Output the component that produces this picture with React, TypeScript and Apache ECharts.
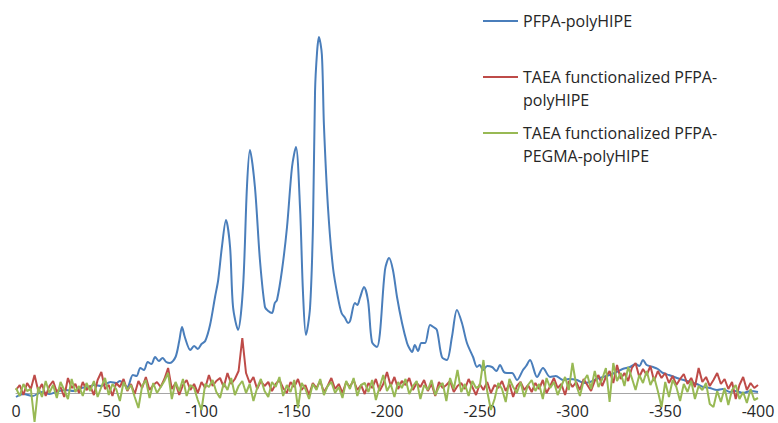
import React, { useEffect, useRef } from "react";
import * as echarts from "echarts";

// Chemical shift (ppm) – x axis runs 0 … -400
const X_MIN = -400;
const X_MAX = 0;
const X_INTERVAL = 50;

const SERIES_NAMES = [
  "PFPA-polyHIPE",
  "TAEA functionalized PFPA-polyHIPE",
  "TAEA functionalized PFPA-PEGMA-polyHIPE",
];
const LEGEND_LABELS = [
  "PFPA-polyHIPE",
  "TAEA functionalized PFPA-\npolyHIPE",
  "TAEA functionalized PFPA-\nPEGMA-polyHIPE",
];
const COLORS = ["#4A7EBB", "#BE4B48", "#98B954"];

// PFPA-polyHIPE: shift positions and intensities (arbitrary units)
const blueX = [
  0, -4, -9, -14, -18, -23, -27, -31, -35, -39, -42, -46, -51, -54, -56, -60, -63, -65, -67, -69,
  -71, -73, -75, -77, -79, -81, -83, -86, -88, -89.5, -91, -94, -96, -98, -100, -102, -104.6, -107.3,
  -109, -111, -113.2, -115.4, -117, -119.7, -122.4, -124.5, -126.1, -128.8, -131.5, -134.2, -136,
  -138, -139.5, -140.7, -143.4, -146.1, -148.8, -150.9, -153.1, -154.7, -156.3, -158.5, -160.1,
  -161.2, -162.3, -163.3, -164.9, -166, -168.2, -170.9, -173.6, -175.5, -177.4, -179, -180.1,
  -182.7, -184, -185.4, -187.6, -189.8, -191.9, -194.6, -196.2, -198.9, -201.1, -203.2, -205.4,
  -208.1, -210.8, -212, -213.5, -215, -216.7, -218.5, -220.5, -223.2, -225, -226.9, -229.6, -232.3,
  -235, -237.7, -240.4, -243.1, -246.4, -248.5, -250, -251.8, -254, -256.6, -259, -260.9, -263,
  -264.7, -267.4, -270.1, -273.3, -275, -277.1, -280.9, -284.1, -287.9, -291, -294.9, -298, -302.4,
  -306, -309.4, -313, -316.4, -320, -323.7, -327, -331, -334, -336, -338, -340, -343.4, -346,
  -348.8, -352, -356.3, -360, -363.3, -367, -370.4, -374, -377.9, -381, -384.9, -388, -391.9, -396,
  -400,
];
const blueY = [
  -4, -1, -3, 1, -1, 2, 3, 2, 5, 6, 8, 7, 11, 10, 12, 6, 18, 17, 25, 23,
  31, 29, 36, 32, 35, 31, 30, 36, 52, 66, 56, 43, 47, 44, 49, 52, 68, 96,
  113, 146, 173, 146, 86, 63, 106, 206, 243, 206, 133, 86, 82,
  80, 90, 93, 123, 166, 226, 246, 186, 101, 58, 85, 168,
  301, 341, 356, 338, 268, 185, 125, 95, 80, 75, 70, 72,
  90, 88, 95, 106, 92, 51, 46, 60, 123, 135, 123, 96,
  70, 50, 45, 41, 48, 42, 50, 50, 68, 66, 63, 36, 33,
  56, 83, 70, 50, 36, 26, 28, 23, 27, 26, 22, 28, 21,
  20, 20, 13, 23, 27, 33, 16, 25, 16, 17, 13, 14, 13,
  10, 11, 14, 16, 18, 21, 24, 26, 29, 27, 33, 28, 26, 24,
  20, 18, 15, 13, 11, 9, 6, 5, 3, 4, 1, 2, 0, 2,
  1,
];

// Noise traces sampled every NOISE_STEP ppm starting at 0
const NOISE_STEP = 2;
const redY = [
  3, 8, -2, 10, 4, 18, 2, 9, -3, 7,
  12, 1, 6, -4, 15, 5, 9, 0, 11, 3,
  7, -2, 13, 21, 4, 8, -3, 10, 6, 14,
  2, 9, -1, 12, 5, 16, 3, 8, 11, 6,
  14, 25, 4, 10, -2, 8, 13, 3, 9, 0,
  11, 5, 18, 7, 12, 15, 6, 20, 9, 14,
  22, 55, 20, 10, 16, 4, 12, 7, 11, 2,
  9, 13, 5, 0, 11, 6, 14, 3, 8, -2,
  10, 5, 12, 1, 7, 15, 4, 9, 0, 11,
  6, 13, 3, 8, -1, 10, 5, 14, 2, 9,
  21, 7, 16, 4, 12, 8, 15, 3, 10, 6,
  13, 2, 9, -3, 11, 5, 8, 12, 1, 7,
  10, 4, 14, 6, -2, 9, 3, 11, 0, 8,
  5, 12, 2, 9, -4, 7, 11, 3, 8, 1,
  10, 4, 13, 0, 7, 15, 5, 9, -2, 12,
  6, 11, 3, 14, 8, 2, 12, 18, 7, 16,
  22, 10, 28, 14, 20, 12, 25, 30, 16, 24,
  18, 27, 12, 22, 15, 20, 10, 17, 8, 14,
  19, 9, 15, 6, 25, 11, 16, 7, 13, 20,
  9, 14, 4, 11, -6, 8, 16, 3, 10, 5,
  8,
];
const greenY = [
  5, -3, 9, 2, 4, -29, 6, -4, 12, 0,
  8, -5, 11, 3, -6, 14, 1, 7, -3, 10,
  2, 12, -4, 6, 15, -2, 9, 4, -8, 11,
  3, 8, -4, -15, 7, 13, -5, 10, 0, 6,
  12, 20, -6, 11, 2, 14, -3, 8, 5, -7,
  -17, 9, 6, 13, 1, -5, 10, 3, 15, -2,
  7, 12, 0, 9, -8, 5, 14, 2, -4, 11,
  6, 16, -3, 8, 1, 13, -15, 10, 4, -6,
  9, 3, 14, -2, 7, 11, 0, 6, -5, 12,
  4, 15, -3, 8, 10, 1, 13, -7, 6, 18,
  2, 9, -4, 11, 5, 14, -1, 7, 12, -6,
  8, 3, 13, -2, 6, 10, -8, 15, 4, 23,
  1, 9, -3, 12, 5, 7, 33, 2, -17, -6,
  10, 4, -9, 14, 6, 0, 11, -4, 8, 13,
  2, 9, -6, 15, 5, 11, -2, 7, 16, 3,
  30, 8, -3, 12, 18, 4, 22, 6, 14, 25,
  -9, 30, 12, 20, 7, 26, 15, 3, 18, 10,
  22, 8, 16, 2, -14, 11, -4, 13, 6, -8,
  9, 1, 12, -6, 7, 3, 10, -11, -14, 2,
  -9, 5, -12, 3, 8, -6, 1, -10, 4, -7,
  -5,
];

const Y_MAX = 358;
const FONT = "'Open Sans', sans-serif";

export default function App() {
  const ref = useRef<HTMLDivElement>(null);

  useEffect(() => {
    document.body.style.margin = "0";
    if (!ref.current) return;
    const chart = echarts.init(ref.current, undefined, { renderer: "svg" });

    const blueData = blueX.map((x, i) => [x, blueY[i]]);
    const redData = redY.map((v, i) => [-i * NOISE_STEP, v]);
    const greenData = greenY.map((v, i) => [-i * NOISE_STEP, v]);
    const datasets = [blueData, redData, greenData];

    const legendTop = [21, 77, 133];
    const legendGraphics: any[] = [];
    legendTop.forEach((cy, i) => {
      legendGraphics.push({
        type: "line",
        shape: { x1: 483, y1: cy, x2: 518, y2: cy },
        style: { stroke: COLORS[i], lineWidth: 2 },
      });
      legendGraphics.push({
        type: "text",
        x: 523,
        y: cy - 11.5,
        style: {
          text: LEGEND_LABELS[i],
          font: `16px ${FONT}`,
          lineHeight: 23,
          fill: "#262626",
          verticalAlign: "top",
        },
      });
    });

    chart.setOption({
      animation: false,
      grid: { left: 16, right: 20, top: 35, bottom: 30 },
      xAxis: {
        type: "value",
        min: X_MIN,
        max: X_MAX,
        interval: X_INTERVAL,
        inverse: true,
        axisLine: { show: true, lineStyle: { color: "#A6A6A6", width: 1 } },
        axisTick: { show: false },
        splitLine: { show: false },
        axisLabel: {
          fontFamily: FONT,
          fontSize: 16,
          color: "#262626",
          margin: 10,
        },
      },
      yAxis: {
        type: "value",
        min: 0,
        max: Y_MAX,
        show: false,
        splitLine: { show: false },
      },
      legend: { show: false },
      series: datasets.map((d, i) => ({
        name: SERIES_NAMES[i],
        type: "line",
        data: d,
        symbol: "none",
        clip: false,
        smooth: i === 0 ? 0.3 : false,
        lineStyle: { color: COLORS[i], width: 2 },
        itemStyle: { color: COLORS[i] },
        z: 2 + i,
      })),
      graphic: legendGraphics,
    });

    return () => chart.dispose();
  }, []);

  return <div ref={ref} style={{ width: 778, height: 423 }} />;
}
